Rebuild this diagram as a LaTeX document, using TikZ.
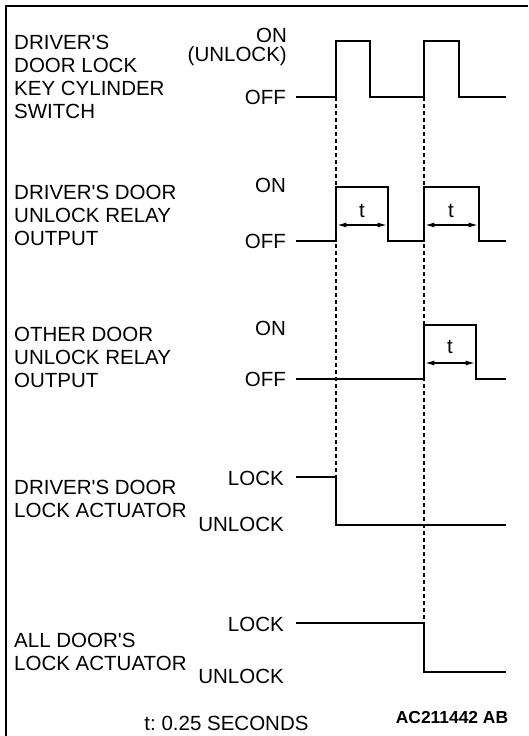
\documentclass[tikz,border=0pt]{standalone}
\usepackage{fontspec}
\setmainfont{Liberation Sans}
\usetikzlibrary{arrows.meta}

\begin{document}
\begin{tikzpicture}[x=1pt, y=-1pt,
  sig/.style={line width=2.6pt},
  guide/.style={line width=1.1pt, dash pattern=on 4pt off 3pt},
  span/.style={{Latex[length=9pt,width=5pt]}-{Latex[length=9pt,width=5pt]}, line width=1.2pt},
  sigtitle/.style={anchor=north west, inner sep=0pt, align=left, font=\fontsize{20.5}{23}\selectfont},
  lvltext/.style={anchor=east, inner sep=0pt, align=right, font=\fontsize{20.5}{23}\selectfont},
  tlbl/.style={inner sep=0pt, font=\fontsize{20.5}{23}\selectfont}
]
\useasboundingbox (0,0) rectangle (528,736);
\draw[line width=2pt] (6,736) -- (6,5.5) -- (528,5.5);

% signal names
\node[sigtitle] (n1) at (14,35.3) {DRIVER\textquotesingle S\\DOOR LOCK\\KEY CYLINDER\\SWITCH};
\node[sigtitle] (n2) at (14,185.3) {DRIVER\textquotesingle S DOOR\\UNLOCK RELAY\\OUTPUT};
\node[sigtitle] (n3) at (14,327.3) {OTHER DOOR\\UNLOCK RELAY\\OUTPUT};
\node[sigtitle] (n4) at (14,480.3) {DRIVER\textquotesingle S DOOR\\LOCK ACTUATOR};
\node[sigtitle] (n5) at (14,633) {ALL DOOR\textquotesingle S\\LOCK ACTUATOR};

% levels
\node[lvltext, anchor=north east] (on1) at (287,28.3) {ON\\[-4pt](UNLOCK)};
\node[lvltext] (off1) at (286,97) {OFF};
\node[lvltext] (on2) at (286,185) {ON};
\node[lvltext] (off2) at (286,241) {OFF};
\node[lvltext] (on3) at (286,328) {ON};
\node[lvltext] (off3) at (286,379) {OFF};
\node[lvltext] (lock4) at (284,478) {LOCK};
\node[lvltext] (unl4) at (284,524) {UNLOCK};
\node[lvltext] (lock5) at (284,624) {LOCK};
\node[lvltext] (unl5) at (284,676) {UNLOCK};

% waveforms
\draw[sig] (296,97) -- (336,97) -- (336,41) -- (370,41) -- (370,97) -- (424,97)
  -- (424,41) -- (459,41) -- (459,97) -- (506,97);
\draw[sig] (296,241) -- (336,241) -- (336,187) -- (388,187) -- (388,241) -- (424,241)
  -- (424,187) -- (479,187) -- (479,241) -- (506,241);
\draw[sig] (296,379) -- (424,379) -- (424,325) -- (476,325) -- (476,379) -- (506,379);
\draw[sig] (296,477) -- (336,477) -- (336,525) -- (506,525);
\draw[sig] (296,623) -- (424,623) -- (424,672) -- (506,672);

% timing guides
\draw[guide] (336,97) -- (336,477);
\draw[guide] (424,97) -- (424,623);

% pulse widths
\coordinate (a1) at (337.3,225);
\coordinate (b1) at (386.7,225);
\coordinate (a2) at (425.3,225);
\coordinate (b2) at (477.7,225);
\coordinate (a3) at (425.3,363);
\coordinate (b3) at (474.7,363);
\draw[span] (a1) -- (b1);
\draw[span] (a2) -- (b2);
\draw[span] (a3) -- (b3);
\node[tlbl] (t1) at (362,211) {t};
\node[tlbl] (t2) at (451,211) {t};
\node[tlbl] (t3) at (450,347) {t};

\node[tlbl] (note) at (226.5,723) {t:\ 0.25 SECONDS};
\node[inner sep=0pt, font=\fontsize{17.4}{20}\selectfont\bfseries] (code) at (452,717.5) {AC211442 AB};
\end{tikzpicture}
\end{document}
